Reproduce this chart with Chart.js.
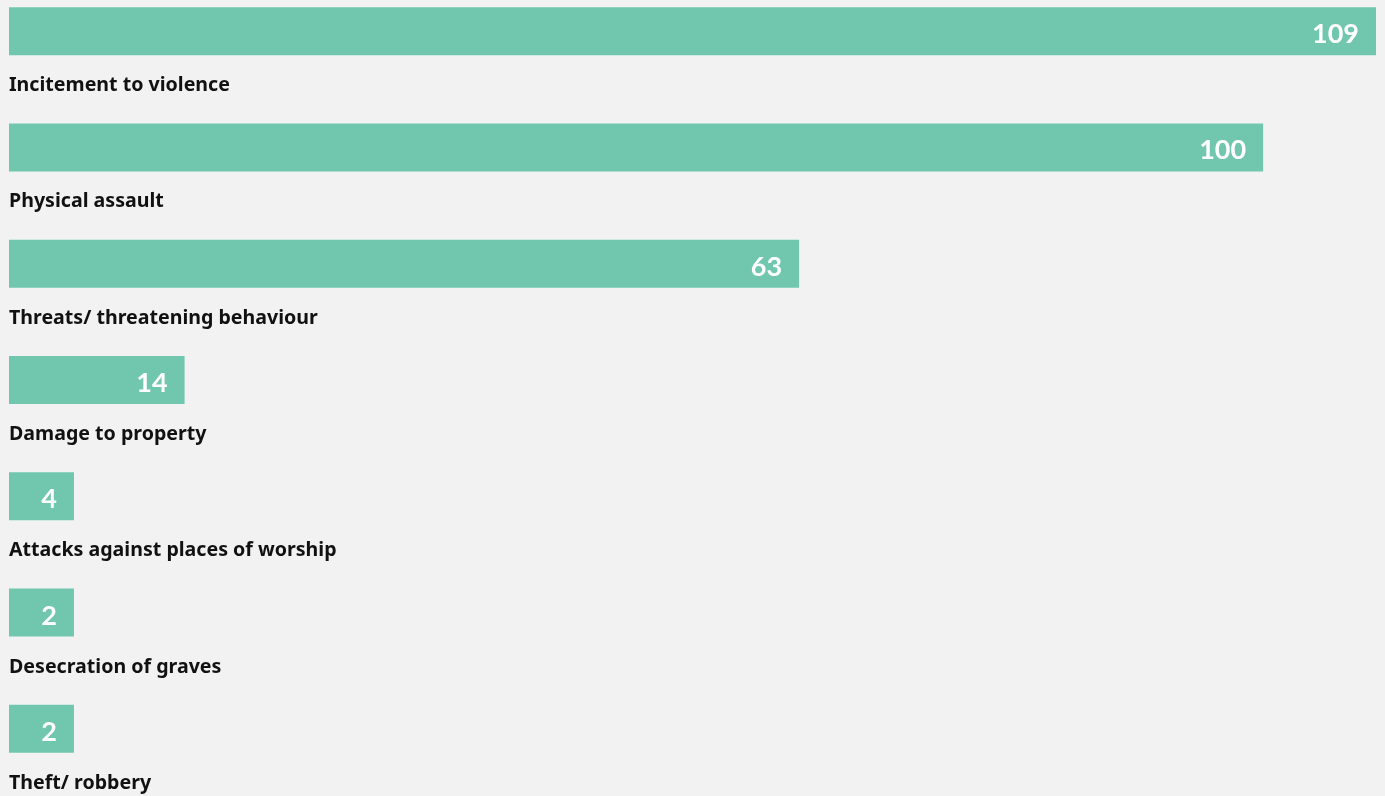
<!DOCTYPE html>
<html>
<head>
<meta charset="utf-8">
<script src="https://cdn.jsdelivr.net/npm/chart.js@4"></script>
<style>
  html, body { margin: 0; padding: 0; background: #f2f2f2; overflow: hidden; }
  body { width: 1385px; height: 796px; position: relative; }
  #wrap { position: absolute; left: 0; top: -27px; width: 1385px; height: 840px; }
</style>
</head>
<body>
<div id="wrap"><canvas id="incidentChart"></canvas></div>
<script>
// categories and counts
const categories = [
    'Incitement to violence',
    'Physical assault',
    'Threats/ threatening behaviour',
    'Damage to property',
    'Attacks against places of worship',
    'Desecration of graves',
    'Theft/ robbery'
];
const counts = [109, 100, 63, 14, 4, 2, 2];

// very small bars still get a minimum width so the number fits
const minShown = 5.18;
const shownCounts = counts.map(v => Math.max(v, minShown));

// draws the number inside the bar and the category name under it
const barTextPlugin = {
    id: 'barText',
    afterDatasetsDraw(chart) {
        const ctx = chart.ctx;
        const meta = chart.getDatasetMeta(0);
        ctx.save();
        meta.data.forEach((bar, i) => {
            const bottom = bar.y + bar.height / 2;
            // value
            ctx.font = 'bold 27px Lato';
            ctx.fillStyle = '#ffffff';
            ctx.textAlign = 'right';
            ctx.textBaseline = 'alphabetic';
            ctx.fillText(String(counts[i]), bar.x - 17, bar.y + 12);
            // category
            ctx.font = 'bold 19.6px "Noto Sans"';
            ctx.fillStyle = '#111111';
            ctx.textAlign = 'left';
            ctx.fillText(categories[i], 9, bottom + 36);
        });
        ctx.restore();
    }
};

const ctx = document.getElementById('incidentChart').getContext('2d');
const chart = new Chart(ctx, {
    type: 'bar',
    data: {
        labels: categories,
        datasets: [{
            data: shownCounts,
            backgroundColor: '#71c7ae',
            borderWidth: 0,
            barPercentage: 1,
            categoryPercentage: 48 / 116.3
        }]
    },
    options: {
        indexAxis: 'y',
        responsive: true,
        maintainAspectRatio: false,
        animation: false,
        layout: { padding: { left: 9, right: 9, top: 0, bottom: 26 } },
        plugins: {
            legend: { display: false },
            tooltip: { enabled: false }
        },
        scales: {
            x: { display: false, min: 0, max: 109 },
            y: { display: false }
        }
    },
    plugins: [barTextPlugin]
});
</script>
</body>
</html>
